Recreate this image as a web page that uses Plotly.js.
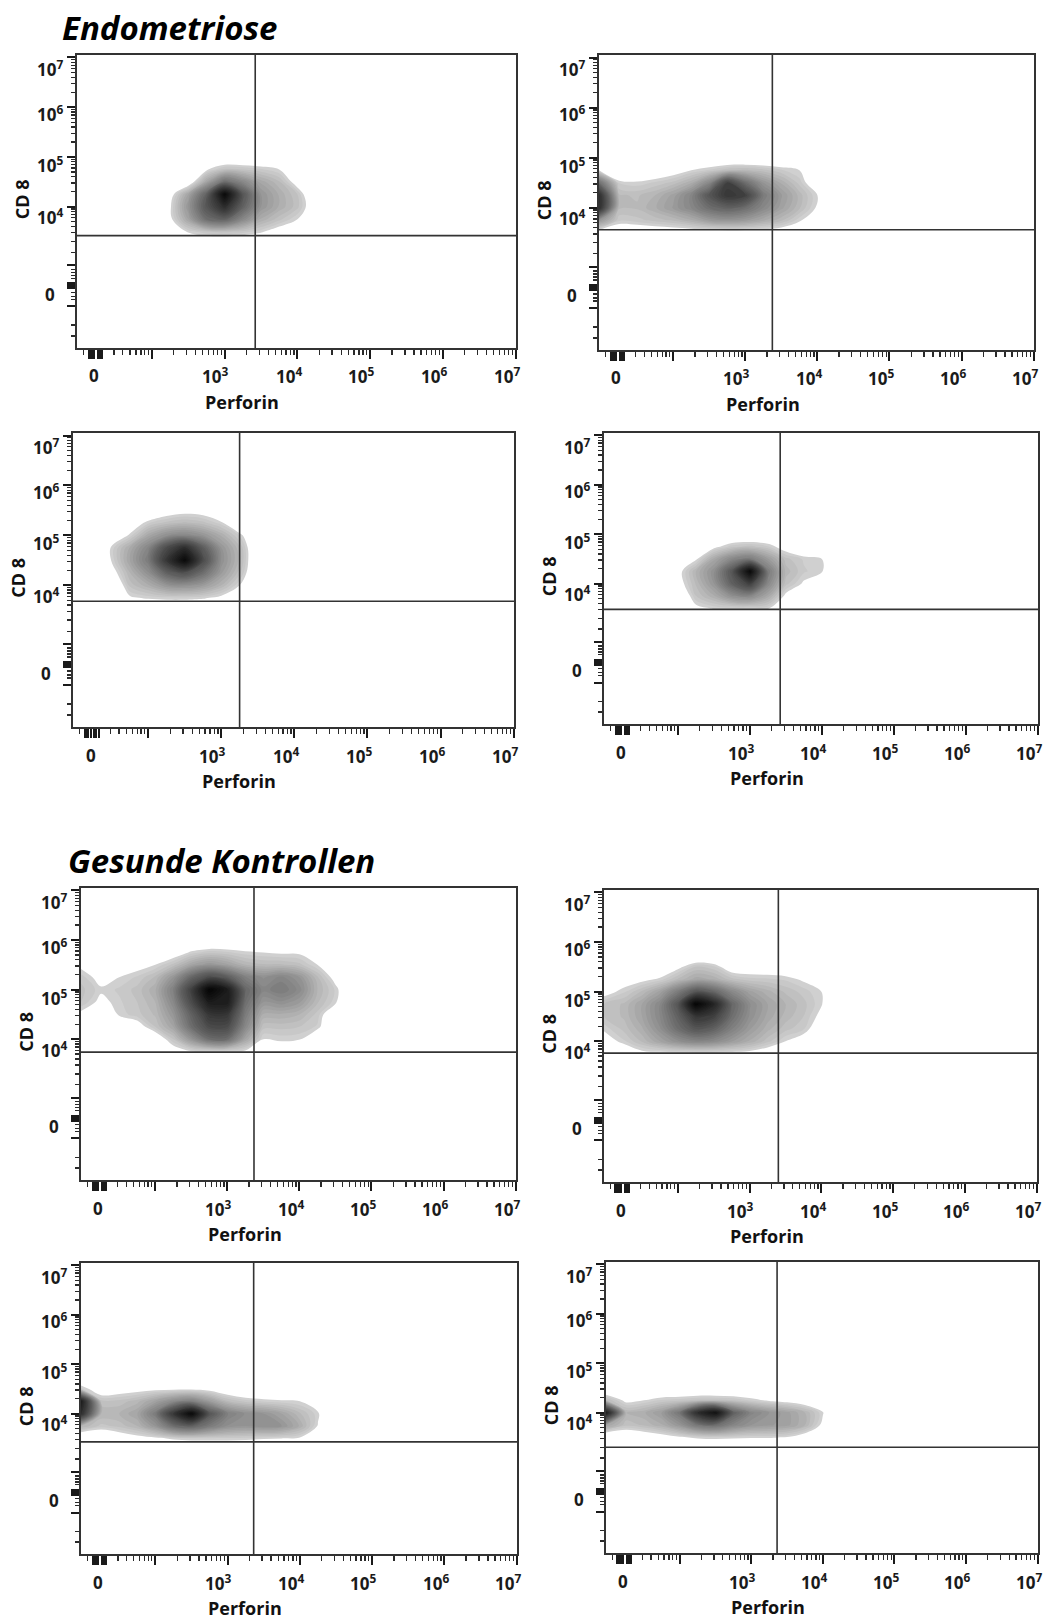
<!DOCTYPE html>
<html><head><meta charset="utf-8">
<script src="https://cdn.plot.ly/plotly-3.0.1.min.js"></script>
<style>html,body{margin:0;padding:0;background:#fff}</style>
</head><body><div id="chart" style="width:1047px;height:1620px"></div>
<script>
const W = 1047, H = 1620;

// ---- text ----
const groupTitles = ['Endometriose', 'Gesunde Kontrollen'];
const xAxisTitle = 'Perforin';
const yAxisTitle = 'CD 8';
const xTickLabels = ['0', '10<sup>3</sup>', '10<sup>4</sup>', '10<sup>5</sup>', '10<sup>6</sup>', '10<sup>7</sup>'];
const xTickLabelPos = [1.21, 2.87, 3.88, 4.88, 5.88, 6.88];
const yTickLabels = ['0', '10<sup>4</sup>', '10<sup>5</sup>', '10<sup>6</sup>', '10<sup>7</sup>'];
const yTickLabelPos = [2.24, 3.8, 4.85, 5.88, 6.78];

// ---- display-scale grid (decades) for the density maps ----
const gridX = [0.97, 1.25, 1.5, 1.75, 2.0, 2.25, 2.5, 2.75, 3.0, 3.25, 3.5, 3.75, 4.0, 4.25, 4.5, 4.75];
const gridY = [3.25, 3.5, 3.75, 4.0, 4.25, 4.5, 4.75, 5.0, 5.25, 5.5, 5.75, 6.0];
const Z0 = [0,0,0,0,0,0,0,0,0,0,0,0,0,0,0,0];

// Endometriose, panel 1
const densE1 = [
  Z0,
  [0,0,0,0,0,0,1.1,1.5,1.6,1.4,1.1,0.6,0,0,0,0],
  [0,0,0,0,0,0.8,2.5,4.5,5,3.5,2.2,1.6,1.0,0,0,0],
  [0,0,0,0,0,0.9,3,5.5,7.5,5,3,2.2,1.6,0.3,0,0],
  [0,0,0,0,0,0.6,2.5,5,9.5,5.5,3,2.2,1.5,0,0,0],
  [0,0,0,0,0,0,0.3,2.5,4.5,3.5,2.4,1.8,0.6,0,0,0],
  [0,0,0,0,0,0,0,0.9,1.6,1.5,1.3,1.0,0,0,0,0],
  Z0, Z0, Z0, Z0, Z0
];
// Endometriose, panel 2
const densE2 = [
  Z0,
  [0.5,0.3,0.3,0.35,0.4,0.4,0.45,0.5,0.5,0.45,0.4,0.2,0,0,0,0],
  [3.0,1.3,1.4,1.6,1.8,2.2,2.8,3.0,2.8,2.3,1.8,1.1,0.3,0,0,0],
  [7.5,1.8,1.8,2.2,2.8,3.5,4.5,5.0,4.5,3.5,2.6,1.8,0.9,0,0,0],
  [7.5,1.8,1.7,2.0,2.6,3.6,5.5,7.0,6.5,4.0,2.8,1.9,1.0,0,0,0],
  [4.5,1.2,1.1,1.3,1.6,2.2,3.5,6.5,4.5,3.0,2.2,1.4,0.3,0,0,0],
  [1.0,0,0,0.3,0.6,1.0,1.3,1.7,1.8,1.6,1.3,1.0,0,0,0,0],
  Z0, Z0, Z0, Z0, Z0
];
// Endometriose, panel 3
const densE3 = [
  Z0, Z0,
  [0,0,0,0.9,1.1,1.2,1.2,1.1,0.8,0,0,0,0,0,0,0],
  [0,0,0,1.6,2.2,3.0,3.2,2.8,2.0,1.0,0,0,0,0,0,0],
  [0,0,0.6,2.0,3.2,5.0,5.8,4.5,2.8,1.6,0,0,0,0,0,0],
  [0,0,1.05,2.5,4.0,7.0,9.5,6.0,3.2,1.9,0,0,0,0,0,0],
  [0,0,1.1,2.3,3.6,6.0,7.5,5.2,3.0,1.8,0,0,0,0,0,0],
  [0,0,0.2,1.1,2.4,3.2,3.5,3.0,2.2,1.2,0,0,0,0,0,0],
  [0,0,0,0.4,1.2,1.6,1.8,1.6,1.1,0,0,0,0,0,0,0],
  [0,0,0,0,0,0.5,0.7,0.6,0,0,0,0,0,0,0,0],
  Z0, Z0
];
// Endometriose, panel 4
const densE4 = [
  Z0,
  [0,0,0,0,0,0.8,1.05,1.1,1.1,1.05,0.3,0,0,0,0,0],
  [0,0,0,0,0,1.5,2.2,3.2,3.5,2.4,0.8,0.3,0,0,0,0],
  [0,0,0,0,0.6,1.8,3.0,5.0,6.5,3.5,1.6,0.9,0.3,0,0,0],
  [0,0,0,0,0.7,2.0,3.2,5.5,9.5,4.0,1.9,1.3,1.05,0,0,0],
  [0,0,0,0,0.2,0.9,2.4,3.5,4.0,2.8,1.6,1.2,1.0,0,0,0],
  [0,0,0,0,0,0,0.8,1.4,1.6,1.3,0.6,0.2,0,0,0,0],
  Z0, Z0, Z0, Z0, Z0
];
// Gesunde Kontrollen, panel 1
const densG1 = [
  Z0, Z0,
  [0,0,0,0,0,0.5,0.9,0.95,0.95,0.85,0.5,0.5,0.3,0,0,0],
  [0,0,0,0,0.3,1.5,3.0,4.5,4.5,2.5,1.0,1.1,1.05,0.2,0,0],
  [0,0,0.3,0.6,1.5,2.5,4.5,6.0,6.0,3.5,1.6,1.6,1.5,1.2,0,0],
  [0.8,0,1.1,1.4,1.8,3.0,5.0,7.0,7.0,4.0,2.2,2.2,2.0,1.4,0.2,0],
  [1.5,0.8,1.2,1.5,2.0,3.5,6.0,8.5,8.5,4.5,3.0,3.2,2.8,1.8,1.1,0],
  [1.6,1.1,1.3,1.6,2.2,3.8,6.5,9.8,8.5,4.8,3.6,4.0,3.4,2.0,1.2,0],
  [1.4,0.7,1.0,1.3,1.8,3.0,4.8,6.0,5.2,3.8,3.2,3.6,3.0,1.8,0.7,0],
  [0.8,0,0.3,0.7,1.0,1.6,2.5,3.0,2.6,2.0,1.8,1.8,1.6,1.0,0,0],
  [0,0,0,0,0,0.5,1.1,1.4,1.3,1.1,1.0,0.9,0.9,0.2,0,0],
  Z0
];
// Gesunde Kontrollen, panel 2
const densG2 = [
  Z0, Z0,
  [0,0.3,0.75,0.75,0.75,0.75,0.75,0.75,0.7,0.4,0,0,0,0,0,0],
  [0.6,1.2,1.8,2.5,3.2,3.6,3.4,2.8,2.2,1.6,1.0,0.6,0,0,0,0],
  [1.1,1.6,2.2,3.2,4.5,5.5,5.0,3.8,2.8,2.1,1.6,1.3,0.4,0,0,0],
  [1.5,1.8,2.5,3.5,5.0,7.0,6.5,4.5,3.2,2.4,1.9,1.5,0.8,0,0,0],
  [1.5,1.8,2.5,3.5,5.5,9.8,8.0,4.8,3.3,2.5,2.0,1.6,1.05,0,0,0],
  [0.7,1.2,1.8,2.6,4.0,5.5,4.8,3.5,2.6,2.1,1.7,1.4,1.0,0,0,0],
  [0,0.6,0.8,1.1,1.8,2.4,2.2,1.6,1.35,1.3,1.2,0.9,0.2,0,0,0],
  [0,0,0,0.3,0.8,1.5,1.3,0.5,0.5,0.45,0.4,0,0,0,0,0],
  Z0, Z0
];
// Gesunde Kontrollen, panel 3
const densG3 = [
  Z0,
  [0,0,0.4,0.7,0.85,1.1,1.2,1.2,1.2,1.15,1.05,1.0,0.9,0.3,0,0],
  [2.0,1.4,1.6,2.0,3.0,4.5,5.0,4.0,3.2,3.0,3.2,3.0,2.2,0.95,0,0],
  [7.5,2.0,2.0,2.5,4.0,7.0,9.5,5.5,3.8,3.2,3.0,2.5,1.8,1.1,0,0],
  [8.5,1.6,1.6,1.9,2.6,3.4,3.8,2.8,1.8,1.4,1.2,1.1,1.0,0.3,0,0],
  [1.4,0.4,0.6,0.7,0.8,0.85,0.85,0.7,0.3,0,0,0,0,0,0,0],
  Z0, Z0, Z0, Z0, Z0, Z0
];
// Gesunde Kontrollen, panel 4
const densG4 = [
  Z0,
  [0,0,0.3,0.6,0.9,1.1,1.15,1.1,1.05,1.05,0.95,0.5,0,0,0,0],
  [2.5,1.6,1.8,2.2,3.0,4.2,4.5,3.6,3.0,2.8,2.6,2.0,0.8,0,0,0],
  [8.5,2.0,2.2,2.8,4.2,7.5,9.0,5.0,3.6,3.0,2.6,2.0,1.05,0,0,0],
  [1.8,0.8,1.0,1.3,1.4,1.6,1.6,1.5,1.2,0.9,0.7,0.4,0,0,0,0],
  Z0, Z0, Z0, Z0, Z0, Z0, Z0
];
const densities = [densE1, densE2, densE3, densE4, densG1, densG2, densG3, densG4];

// quadrant gates (display decades)
const gateX = [3.42, 3.375, 3.25, 3.42, 3.37, 3.40, 3.36, 3.36];
const gateY = [3.42, 3.56, 3.68, 3.48, 3.74, 3.76, 3.43, 3.30];

// ---- layout geometry (pixels: left, top, right, bottom) ----
const boxes = [
  [77, 55, 516, 348], [599, 55, 1034, 350],
  [73, 433, 514, 727], [604, 433, 1038, 724],
  [81, 888, 516, 1180], [604, 890, 1037, 1182],
  [81, 1263, 517, 1554], [606, 1262, 1038, 1553]
];
const xRange = [0.97, 7.005], yRange = [1.16, 7.05];

// axis tick marks (biexponential-like display)
const xMajor = [1.13, 1.155, 1.18, 1.21, 1.26, 1.29, 1.32, 2, 3, 4, 5, 6, 7];
const xMinor = [1.06, 1.48, 1.6, 1.7, 1.78, 1.85, 1.9, 1.95];
for (let n = 2; n <= 6; n++) for (let k = 2; k <= 9; k++) xMinor.push(n + Math.log10(k));
const yMajor = [2.0, 2.36, 2.385, 2.41, 2.435, 2.46, 2.82, 4, 5, 6, 7];
const yMinor = [1.4, 1.62, 2.14, 2.2, 2.28, 2.56, 2.62, 2.68, 2.74, 3.08];
for (let n = 3; n <= 6; n++) for (let k = 2; k <= 9; k++) yMinor.push(n + Math.log10(k));

const cscale = [
  [0, '#ffffff'], [0.012, '#ffffff'], [0.013, '#d4d4d4'],
  [0.12, '#b4b4b4'], [0.23, '#959595'], [0.446, '#616161'], [0.662, '#363636'],
  [0.878, '#121212'], [1, '#000000']
];

const FONT = 'Open Sans, Noto Sans, DejaVu Sans, sans-serif';
const tickFont = {family: FONT, size: 17, color: '#1a1a1a', weight: 'bold'};
const titleFont = {family: FONT, size: 18, color: '#111', weight: 'bold'};

const data = [], shapes = [], annotations = [];
const layout = {
  width: W, height: H, margin: {l: 0, r: 0, t: 0, b: 0},
  paper_bgcolor: '#fff', plot_bgcolor: '#fff', showlegend: false
};

boxes.forEach((b, i) => {
  const s = i === 0 ? '' : String(i + 1);
  const [l, t, r, btm] = b;
  layout['xaxis' + s] = {
    domain: [l / W, r / W], range: xRange, anchor: 'y' + s,
    showgrid: false, zeroline: false, showline: true, mirror: true,
    linecolor: '#333', linewidth: 1.6,
    ticks: 'outside', tickmode: 'array', tickvals: xMajor,
    ticklen: 9, tickwidth: 2, tickcolor: '#1a1a1a', showticklabels: false,
    minor: {ticks: 'outside', tickmode: 'array', tickvals: xMinor, ticklen: 5, tickwidth: 1.3, tickcolor: '#2a2a2a', showgrid: false},
    fixedrange: true
  };
  layout['yaxis' + s] = {
    domain: [1 - btm / H, 1 - t / H], range: yRange, anchor: 'x' + s,
    showgrid: false, zeroline: false, showline: true, mirror: true,
    linecolor: '#333', linewidth: 1.6,
    ticks: 'outside', tickmode: 'array', tickvals: yMajor,
    ticklen: 8, tickwidth: 2, tickcolor: '#1a1a1a', showticklabels: false,
    minor: {ticks: 'outside', tickmode: 'array', tickvals: yMinor, ticklen: 4, tickwidth: 1.3, tickcolor: '#2a2a2a', showgrid: false},
    fixedrange: true
  };

  data.push({
    type: 'contour', x: gridX, y: gridY, z: densities[i],
    xaxis: 'x' + s, yaxis: 'y' + s,
    autocontour: false,
    contours: {start: 1, end: 10, size: 0.25, coloring: 'fill', showlines: false},
    line: {width: 0, smoothing: 1},
    colorscale: cscale, showscale: false, hoverinfo: 'skip'
  });

  shapes.push({type: 'line', xref: 'x' + s, yref: 'y' + s + ' domain',
    x0: gateX[i], x1: gateX[i], y0: 0, y1: 1, line: {color: '#333', width: 1.6}});
  shapes.push({type: 'line', xref: 'x' + s + ' domain', yref: 'y' + s,
    x0: 0, x1: 1, y0: gateY[i], y1: gateY[i], line: {color: '#333', width: 1.6}});

  xTickLabels.forEach((txt, j) => annotations.push({
    xref: 'x' + s, yref: 'y' + s + ' domain', x: xTickLabelPos[j], y: 0, yshift: -28,
    xanchor: 'center', yanchor: 'middle', text: txt, showarrow: false, font: tickFont
  }));
  yTickLabels.forEach((txt, j) => annotations.push({
    xref: 'x' + s + ' domain', yref: 'y' + s, x: 0, xshift: -27, y: yTickLabelPos[j],
    xanchor: 'center', yanchor: 'middle', text: txt, showarrow: false, font: tickFont
  }));
  annotations.push({
    xref: 'x' + s, yref: 'y' + s + ' domain', x: 3.24, y: 0, yshift: -54,
    xanchor: 'center', yanchor: 'middle', text: xAxisTitle, showarrow: false, font: titleFont
  });
  annotations.push({
    xref: 'x' + s + ' domain', yref: 'y' + s, x: 0, xshift: -55, y: 4.15,
    xanchor: 'center', yanchor: 'middle', text: yAxisTitle, textangle: -90,
    showarrow: false, font: titleFont
  });
});

const headFont = {family: FONT, size: 33, color: '#000', weight: 'bold', style: 'italic'};
annotations.push({xref: 'paper', yref: 'paper', x: 60 / W, y: 1 - 27 / H, xanchor: 'left', yanchor: 'middle',
  text: groupTitles[0], showarrow: false, font: headFont});
annotations.push({xref: 'paper', yref: 'paper', x: 66 / W, y: 1 - 860 / H, xanchor: 'left', yanchor: 'middle',
  text: groupTitles[1], showarrow: false, font: headFont});

layout.shapes = shapes;
layout.annotations = annotations;

Plotly.newPlot('chart', data, layout, {staticPlot: true, displayModeBar: false});
</script>
</body></html>
